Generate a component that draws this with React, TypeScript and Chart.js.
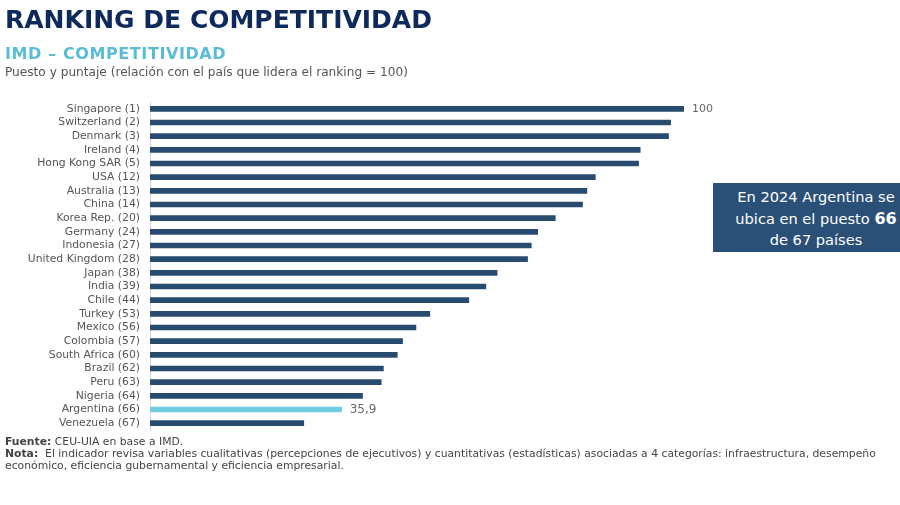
import React, { useEffect, useRef } from "react";
import { Chart, registerables } from "chart.js";

Chart.register(...registerables);

const countries = [
  "Singapore (1)", "Switzerland (2)", "Denmark (3)", "Ireland (4)", "Hong Kong SAR (5)",
  "USA (12)", "Australia (13)", "China (14)", "Korea Rep. (20)", "Germany (24)",
  "Indonesia (27)", "United Kingdom (28)", "Japan (38)", "India (39)", "Chile (44)",
  "Turkey (53)", "Mexico (56)", "Colombia (57)", "South Africa (60)", "Brazil (62)",
  "Peru (63)", "Nigeria (64)", "Argentina (66)", "Venezuela (67)",
];
const scores = [
  100, 97.5, 97.1, 91.8, 91.5,
  83.4, 81.8, 81.0, 75.9, 72.6,
  71.4, 70.7, 65.0, 62.9, 59.7,
  52.4, 49.8, 47.3, 46.3, 43.7,
  43.3, 39.8, 35.9, 28.8,
];
const highlighted = "Argentina (66)";
const labelled = ["Singapore (1)", "Argentina (66)"];

const NAVY = "#284c70";
const TEAL = "#6fcde2";

export default function App() {
  const ref = useRef<HTMLCanvasElement | null>(null);

  useEffect(() => {
    if (!ref.current) return;
    const valueLabels = {
      id: "valueLabels",
      afterDatasetsDraw(chart: any) {
        const ctx = chart.ctx;
        const meta = chart.getDatasetMeta(0);
        ctx.save();
        ctx.fillStyle = "#666";
        ctx.textAlign = "left";
        ctx.textBaseline = "middle";
        countries.forEach((c, i) => {
          if (!labelled.includes(c)) return;
          const bar = meta.data[i];
          ctx.font = (c === highlighted ? "12px" : "11px") + " 'DejaVu Sans', Verdana, sans-serif";
          ctx.fillText(String(scores[i]).replace(".", ","), bar.x + 8, bar.y);
        });
        ctx.restore();
      },
    };
    const chart = new Chart(ref.current, {
      type: "bar",
      data: {
        labels: countries,
        datasets: [
          {
            data: scores,
            backgroundColor: countries.map((c) => (c === highlighted ? TEAL : NAVY)),
            barThickness: 5,
          },
        ],
      },
      options: {
        indexAxis: "y",
        animation: false,
        responsive: false,
        layout: { padding: { top: 102, bottom: 75, left: 0, right: 216 } },
        plugins: { legend: { display: false }, tooltip: { enabled: false } },
        scales: {
          x: { display: false, min: 0, max: 100 },
          y: {
            afterFit: (s: any) => {
              s.width = 150;
            },
            grid: { display: false },
            border: { display: true, color: "#d8d8d8" },
            ticks: {
              autoSkip: false,
              padding: 2,
              color: "#555",
              font: { family: "'DejaVu Sans', Verdana, sans-serif", size: 10.8 },
            },
          },
        },
      },
      plugins: [valueLabels],
    });
    return () => chart.destroy();
  }, []);

  return (
    <div
      style={{
        position: "absolute",
        left: 0,
        top: 0,
        width: 900,
        height: 505,
        overflow: "hidden",
        background: "#fff",
        fontFamily: "'DejaVu Sans', Verdana, sans-serif",
      }}
    >
      <canvas ref={ref} width={900} height={505} style={{ position: "absolute", left: 0, top: 0 }} />
      <div
        style={{
          position: "absolute",
          left: 5,
          top: 5,
          fontSize: 25,
          fontWeight: 700,
          color: "#0e2a5c",
          whiteSpace: "nowrap",
        }}
      >
        RANKING DE COMPETITIVIDAD
      </div>
      <div
        style={{
          position: "absolute",
          left: 5,
          top: 44,
          fontSize: 16,
          letterSpacing: 0.6,
          fontWeight: 700,
          color: "#5bbdd5",
          whiteSpace: "nowrap",
        }}
      >
        IMD – COMPETITIVIDAD
      </div>
      <div
        style={{ position: "absolute", left: 5, top: 65, fontSize: 12.15, color: "#555", whiteSpace: "nowrap" }}
      >
        Puesto y puntaje (relación con el país que lidera el ranking = 100)
      </div>
      <div
        style={{
          position: "absolute",
          left: 713,
          top: 183,
          width: 206,
          height: 69,
          background: "#2a5078",
          color: "#fff",
          fontSize: 14.6,
          lineHeight: "21.5px",
          textAlign: "center",
          paddingTop: 3,
          boxSizing: "border-box",
          whiteSpace: "nowrap",
        }}
      >
        <div>En 2024 Argentina se</div>
        <div>
          ubica en el puesto <b style={{ fontSize: 16 }}>66</b>
        </div>
        <div>de 67 países</div>
      </div>
      <div
        style={{
          position: "absolute",
          left: 5,
          top: 436,
          fontSize: 10.8,
          lineHeight: "11.8px",
          color: "#444",
          whiteSpace: "nowrap",
        }}
      >
        <div>
          <b>Fuente:</b> CEU-UIA en base a IMD.
        </div>
        <div>
          <b>Nota:</b>&nbsp; El indicador revisa variables cualitativas (percepciones de ejecutivos) y cuantitativas
          (estadísticas) asociadas a 4 categorías: infraestructura, desempeño
        </div>
        <div>económico, eficiencia gubernamental y eficiencia empresarial.</div>
      </div>
    </div>
  );
}
